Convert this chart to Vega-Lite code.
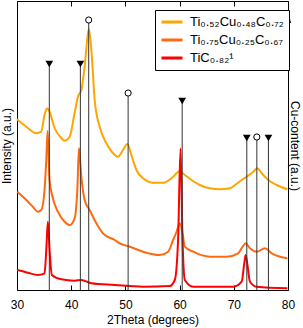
{
  "$schema": "https://vega.github.io/schema/vega-lite/v6.json",
  "width": 271,
  "height": 289,
  "autosize": {"type": "none"},
  "padding": {"left": 17, "top": 1, "right": 15, "bottom": 38},
  "config": {
    "font": "Liberation Sans",
    "view": {"stroke": "black", "strokeWidth": 1},
    "axis": {"domain": false, "grid": false, "titleFontWeight": "normal", "titleFontSize": 12, "labelFontSize": 12, "tickColor": "black", "labelColor": "black", "titleColor": "black"}
  },
  "datasets": {
    "curves": [
      {"s": "Ti₀.₅₂Cu₀.₄₈C₀.₇₂", "x": 30.0, "y": 170.7},
      {"s": "Ti₀.₅₂Cu₀.₄₈C₀.₇₂", "x": 31.7, "y": 163.3},
      {"s": "Ti₀.₅₂Cu₀.₄₈C₀.₇₂", "x": 33.55, "y": 156.7},
      {"s": "Ti₀.₅₂Cu₀.₄₈C₀.₇₂", "x": 34.47, "y": 158.3},
      {"s": "Ti₀.₅₂Cu₀.₄₈C₀.₇₂", "x": 35.08, "y": 175},
      {"s": "Ti₀.₅₂Cu₀.₄₈C₀.₇₂", "x": 35.55, "y": 181.7},
      {"s": "Ti₀.₅₂Cu₀.₄₈C₀.₇₂", "x": 36.01, "y": 178.3},
      {"s": "Ti₀.₅₂Cu₀.₄₈C₀.₇₂", "x": 36.93, "y": 162},
      {"s": "Ti₀.₅₂Cu₀.₄₈C₀.₇₂", "x": 38.17, "y": 152},
      {"s": "Ti₀.₅₂Cu₀.₄₈C₀.₇₂", "x": 38.78, "y": 149.3},
      {"s": "Ti₀.₅₂Cu₀.₄₈C₀.₇₂", "x": 39.71, "y": 153.3},
      {"s": "Ti₀.₅₂Cu₀.₄₈C₀.₇₂", "x": 40.63, "y": 177},
      {"s": "Ti₀.₅₂Cu₀.₄₈C₀.₇₂", "x": 41.24, "y": 193.3},
      {"s": "Ti₀.₅₂Cu₀.₄₈C₀.₇₂", "x": 41.87, "y": 200},
      {"s": "Ti₀.₅₂Cu₀.₄₈C₀.₇₂", "x": 42.48, "y": 223.3},
      {"s": "Ti₀.₅₂Cu₀.₄₈C₀.₇₂", "x": 43.09, "y": 256.7},
      {"s": "Ti₀.₅₂Cu₀.₄₈C₀.₇₂", "x": 43.28, "y": 260.7},
      {"s": "Ti₀.₅₂Cu₀.₄₈C₀.₇₂", "x": 43.72, "y": 240},
      {"s": "Ti₀.₅₂Cu₀.₄₈C₀.₇₂", "x": 44.33, "y": 190},
      {"s": "Ti₀.₅₂Cu₀.₄₈C₀.₇₂", "x": 45.25, "y": 163.3},
      {"s": "Ti₀.₅₂Cu₀.₄₈C₀.₇₂", "x": 46.49, "y": 146.7},
      {"s": "Ti₀.₅₂Cu₀.₄₈C₀.₇₂", "x": 47.71, "y": 136.7},
      {"s": "Ti₀.₅₂Cu₀.₄₈C₀.₇₂", "x": 48.63, "y": 133.3},
      {"s": "Ti₀.₅₂Cu₀.₄₈C₀.₇₂", "x": 49.56, "y": 140},
      {"s": "Ti₀.₅₂Cu₀.₄₈C₀.₇₂", "x": 50.37, "y": 146},
      {"s": "Ti₀.₅₂Cu₀.₄₈C₀.₇₂", "x": 51.11, "y": 135},
      {"s": "Ti₀.₅₂Cu₀.₄₈C₀.₇₂", "x": 52.03, "y": 120},
      {"s": "Ti₀.₅₂Cu₀.₄₈C₀.₇₂", "x": 53.25, "y": 111.7},
      {"s": "Ti₀.₅₂Cu₀.₄₈C₀.₇₂", "x": 55.1, "y": 107.3},
      {"s": "Ti₀.₅₂Cu₀.₄₈C₀.₇₂", "x": 56.95, "y": 107.3},
      {"s": "Ti₀.₅₂Cu₀.₄₈C₀.₇₂", "x": 58.5, "y": 111.7},
      {"s": "Ti₀.₅₂Cu₀.₄₈C₀.₇₂", "x": 59.43, "y": 116.7},
      {"s": "Ti₀.₅₂Cu₀.₄₈C₀.₇₂", "x": 60.04, "y": 119},
      {"s": "Ti₀.₅₂Cu₀.₄₈C₀.₇₂", "x": 60.96, "y": 115},
      {"s": "Ti₀.₅₂Cu₀.₄₈C₀.₇₂", "x": 62.2, "y": 110},
      {"s": "Ti₀.₅₂Cu₀.₄₈C₀.₇₂", "x": 63.73, "y": 105},
      {"s": "Ti₀.₅₂Cu₀.₄₈C₀.₇₂", "x": 65.58, "y": 101.7},
      {"s": "Ti₀.₅₂Cu₀.₄₈C₀.₇₂", "x": 67.43, "y": 100.7},
      {"s": "Ti₀.₅₂Cu₀.₄₈C₀.₇₂", "x": 69.28, "y": 101.7},
      {"s": "Ti₀.₅₂Cu₀.₄₈C₀.₇₂", "x": 70.21, "y": 105},
      {"s": "Ti₀.₅₂Cu₀.₄₈C₀.₇₂", "x": 71.45, "y": 110},
      {"s": "Ti₀.₅₂Cu₀.₄₈C₀.₇₂", "x": 72.37, "y": 113.3},
      {"s": "Ti₀.₅₂Cu₀.₄₈C₀.₇₂", "x": 73.59, "y": 118.3},
      {"s": "Ti₀.₅₂Cu₀.₄₈C₀.₇₂", "x": 74.33, "y": 121.7},
      {"s": "Ti₀.₅₂Cu₀.₄₈C₀.₇₂", "x": 75.14, "y": 116.7},
      {"s": "Ti₀.₅₂Cu₀.₄₈C₀.₇₂", "x": 76.36, "y": 110},
      {"s": "Ti₀.₅₂Cu₀.₄₈C₀.₇₂", "x": 77.91, "y": 105},
      {"s": "Ti₀.₅₂Cu₀.₄₈C₀.₇₂", "x": 79.87, "y": 100.7},

      {"s": "Ti₀.₇₅Cu₀.₂₅C₀.₆₇", "x": 30.04, "y": 98.3},
      {"s": "Ti₀.₇₅Cu₀.₂₅C₀.₆₇", "x": 31.39, "y": 91.7},
      {"s": "Ti₀.₇₅Cu₀.₂₅C₀.₆₇", "x": 32.92, "y": 83.3},
      {"s": "Ti₀.₇₅Cu₀.₂₅C₀.₆₇", "x": 33.84, "y": 78.3},
      {"s": "Ti₀.₇₅Cu₀.₂₅C₀.₆₇", "x": 34.47, "y": 80},
      {"s": "Ti₀.₇₅Cu₀.₂₅C₀.₆₇", "x": 35.08, "y": 100},
      {"s": "Ti₀.₇₅Cu₀.₂₅C₀.₆₇", "x": 35.4, "y": 130},
      {"s": "Ti₀.₇₅Cu₀.₂₅C₀.₆₇", "x": 35.64, "y": 159},
      {"s": "Ti₀.₇₅Cu₀.₂₅C₀.₆₇", "x": 36.01, "y": 110},
      {"s": "Ti₀.₇₅Cu₀.₂₅C₀.₆₇", "x": 36.62, "y": 91.7},
      {"s": "Ti₀.₇₅Cu₀.₂₅C₀.₆₇", "x": 37.54, "y": 78.3},
      {"s": "Ti₀.₇₅Cu₀.₂₅C₀.₆₇", "x": 38.78, "y": 68.3},
      {"s": "Ti₀.₇₅Cu₀.₂₅C₀.₆₇", "x": 39.71, "y": 65},
      {"s": "Ti₀.₇₅Cu₀.₂₅C₀.₆₇", "x": 40.63, "y": 71.7},
      {"s": "Ti₀.₇₅Cu₀.₂₅C₀.₆₇", "x": 41.13, "y": 100},
      {"s": "Ti₀.₇₅Cu₀.₂₅C₀.₆₇", "x": 41.43, "y": 141.7},
      {"s": "Ti₀.₇₅Cu₀.₂₅C₀.₆₇", "x": 41.87, "y": 113.3},
      {"s": "Ti₀.₇₅Cu₀.₂₅C₀.₆₇", "x": 42.48, "y": 90},
      {"s": "Ti₀.₇₅Cu₀.₂₅C₀.₆₇", "x": 43.4, "y": 80},
      {"s": "Ti₀.₇₅Cu₀.₂₅C₀.₆₇", "x": 44.64, "y": 66.7},
      {"s": "Ti₀.₇₅Cu₀.₂₅C₀.₆₇", "x": 45.86, "y": 56.7},
      {"s": "Ti₀.₇₅Cu₀.₂₅C₀.₆₇", "x": 48.02, "y": 50},
      {"s": "Ti₀.₇₅Cu₀.₂₅C₀.₆₇", "x": 48.95, "y": 46.7},
      {"s": "Ti₀.₇₅Cu₀.₂₅C₀.₆₇", "x": 50.8, "y": 43.3},
      {"s": "Ti₀.₇₅Cu₀.₂₅C₀.₆₇", "x": 53.25, "y": 38.3},
      {"s": "Ti₀.₇₅Cu₀.₂₅C₀.₆₇", "x": 56.34, "y": 35},
      {"s": "Ti₀.₇₅Cu₀.₂₅C₀.₆₇", "x": 57.88, "y": 38.3},
      {"s": "Ti₀.₇₅Cu₀.₂₅C₀.₆₇", "x": 58.8, "y": 50},
      {"s": "Ti₀.₇₅Cu₀.₂₅C₀.₆₇", "x": 59.43, "y": 58},
      {"s": "Ti₀.₇₅Cu₀.₂₅C₀.₆₇", "x": 60.04, "y": 66.7},
      {"s": "Ti₀.₇₅Cu₀.₂₅C₀.₆₇", "x": 60.6, "y": 55},
      {"s": "Ti₀.₇₅Cu₀.₂₅C₀.₆₇", "x": 60.96, "y": 43.3},
      {"s": "Ti₀.₇₅Cu₀.₂₅C₀.₆₇", "x": 62.5, "y": 38.3},
      {"s": "Ti₀.₇₅Cu₀.₂₅C₀.₆₇", "x": 65.58, "y": 33.3},
      {"s": "Ti₀.₇₅Cu₀.₂₅C₀.₆₇", "x": 68.67, "y": 33.3},
      {"s": "Ti₀.₇₅Cu₀.₂₅C₀.₆₇", "x": 70.81, "y": 36.7},
      {"s": "Ti₀.₇₅Cu₀.₂₅C₀.₆₇", "x": 71.63, "y": 43.3},
      {"s": "Ti₀.₇₅Cu₀.₂₅C₀.₆₇", "x": 72.18, "y": 46.7},
      {"s": "Ti₀.₇₅Cu₀.₂₅C₀.₆₇", "x": 72.98, "y": 41.7},
      {"s": "Ti₀.₇₅Cu₀.₂₅C₀.₆₇", "x": 74.22, "y": 38.3},
      {"s": "Ti₀.₇₅Cu₀.₂₅C₀.₆₇", "x": 75.75, "y": 41.7},
      {"s": "Ti₀.₇₅Cu₀.₂₅C₀.₆₇", "x": 76.99, "y": 36.7},
      {"s": "Ti₀.₇₅Cu₀.₂₅C₀.₆₇", "x": 78.54, "y": 33.3},
      {"s": "Ti₀.₇₅Cu₀.₂₅C₀.₆₇", "x": 79.89, "y": 31.7},

      {"s": "TiC₀.₈₂¹", "x": 30.04, "y": 20},
      {"s": "TiC₀.₈₂¹", "x": 32.0, "y": 17.3},
      {"s": "TiC₀.₈₂¹", "x": 33.84, "y": 15},
      {"s": "TiC₀.₈₂¹", "x": 35.08, "y": 16.7},
      {"s": "TiC₀.₈₂¹", "x": 35.4, "y": 40},
      {"s": "TiC₀.₈₂¹", "x": 35.69, "y": 68.3},
      {"s": "TiC₀.₈₂¹", "x": 36.01, "y": 40},
      {"s": "TiC₀.₈₂¹", "x": 36.43, "y": 15},
      {"s": "TiC₀.₈₂¹", "x": 38.17, "y": 10.7},
      {"s": "TiC₀.₈₂¹", "x": 40.63, "y": 9.3},
      {"s": "TiC₀.₈₂¹", "x": 41.87, "y": 10},
      {"s": "TiC₀.₈₂¹", "x": 43.72, "y": 6.7},
      {"s": "TiC₀.₈₂¹", "x": 48.02, "y": 5},
      {"s": "TiC₀.₈₂¹", "x": 53.25, "y": 3.3},
      {"s": "TiC₀.₈₂¹", "x": 58.19, "y": 4},
      {"s": "TiC₀.₈₂¹", "x": 59.11, "y": 10},
      {"s": "TiC₀.₈₂¹", "x": 59.72, "y": 50},
      {"s": "TiC₀.₈₂¹", "x": 60.17, "y": 141.7},
      {"s": "TiC₀.₈₂¹", "x": 60.54, "y": 50},
      {"s": "TiC₀.₈₂¹", "x": 60.96, "y": 10},
      {"s": "TiC₀.₈₂¹", "x": 62.5, "y": 3.3},
      {"s": "TiC₀.₈₂¹", "x": 69.9, "y": 3.3},
      {"s": "TiC₀.₈₂¹", "x": 71.45, "y": 8.3},
      {"s": "TiC₀.₈₂¹", "x": 71.93, "y": 26.7},
      {"s": "TiC₀.₈₂¹", "x": 72.18, "y": 35},
      {"s": "TiC₀.₈₂¹", "x": 72.48, "y": 26.7},
      {"s": "TiC₀.₈₂¹", "x": 72.98, "y": 8.3},
      {"s": "TiC₀.₈₂¹", "x": 74.22, "y": 3.3},
      {"s": "TiC₀.₈₂¹", "x": 79.89, "y": 1.7}
    ],
    "refs": [
      {"x": 35.96, "y": 226, "kind": "tri"},
      {"x": 41.69, "y": 226, "kind": "tri"},
      {"x": 43.23, "y": 270, "kind": "circ"},
      {"x": 50.5, "y": 197, "kind": "circ"},
      {"x": 60.48, "y": 189, "kind": "tri"},
      {"x": 72.4, "y": 152, "kind": "tri"},
      {"x": 74.25, "y": 153, "kind": "circ"},
      {"x": 76.39, "y": 152, "kind": "tri"}
    ],
    "arrow": [{"x": 80, "y": 273}]
  },
  "layer": [
    {
      "data": {"name": "curves"},
      "mark": {"type": "line", "strokeWidth": 2, "interpolate": "monotone"},
      "encoding": {
        "x": {"field": "x", "type": "quantitative", "scale": {"domain": [30, 80], "nice": false, "zero": false},
              "axis": {"orient": "bottom", "title": "2Theta (degrees)", "values": [30, 40, 50, 60, 70, 80], "tickSize": -5, "labelPadding": 14, "titlePadding": 4, "labelFlush": false}},
        "y": {"field": "y", "type": "quantitative", "scale": {"domain": [0, 289], "nice": false, "zero": false},
              "axis": {"orient": "left", "title": "Intensity (a.u.)", "labels": false, "ticks": false, "titlePadding": 4}},
        "color": {"field": "s", "type": "nominal",
                  "scale": {"domain": ["Ti₀.₅₂Cu₀.₄₈C₀.₇₂", "Ti₀.₇₅Cu₀.₂₅C₀.₆₇", "TiC₀.₈₂¹"], "range": ["#FFA500", "#FF6A10", "#FF0000"]},
                  "legend": {"orient": "none", "legendX": 138, "legendY": 9, "title": null, "strokeColor": "black", "fillColor": "white", "padding": 5,
                             "symbolType": "stroke", "symbolSize": 441, "symbolStrokeWidth": 3, "labelFontSize": 13, "labelOffset": 6, "rowPadding": 4, "clipHeight": 14, "labelColor": "black"}}
      }
    },
    {
      "data": {"name": "refs"},
      "mark": {"type": "rule", "color": "#333", "strokeWidth": 1},
      "encoding": {
        "x": {"field": "x", "type": "quantitative",
              "axis": {"orient": "top", "title": null, "labels": false, "values": [30, 40, 50, 60, 70, 80], "tickSize": -5}},
        "y": {"field": "y", "type": "quantitative", "axis": null},
        "y2": {"datum": 0}
      }
    },
    {
      "data": {"name": "refs"},
      "transform": [{"filter": "datum.kind == 'tri'"}],
      "mark": {"type": "point", "shape": "triangle-down", "filled": true, "color": "black", "size": 60, "opacity": 1},
      "encoding": {
        "x": {"field": "x", "type": "quantitative", "axis": null},
        "y": {"field": "y", "type": "quantitative", "axis": null}
      }
    },
    {
      "data": {"name": "refs"},
      "transform": [{"filter": "datum.kind == 'circ'"}],
      "mark": {"type": "point", "shape": "circle", "filled": true, "fill": "white", "stroke": "black", "strokeWidth": 1, "size": 38, "opacity": 1},
      "encoding": {
        "x": {"field": "x", "type": "quantitative", "axis": null},
        "y": {"field": "y", "type": "quantitative", "axis": null}
      }
    },
    {
      "data": {"name": "arrow"},
      "mark": {"type": "point", "shape": "M-0.5,1L0,-1L0.5,1Z", "filled": true, "color": "black", "size": 144, "opacity": 1},
      "encoding": {
        "x": {"field": "x", "type": "quantitative", "axis": null},
        "y": {"field": "y", "type": "quantitative",
              "axis": {"orient": "right", "title": "Cu-content (a.u.)", "titleAngle": 90, "labels": false, "ticks": false, "titlePadding": -1}}
      }
    }
  ],
  "resolve": {"axis": {"x": "independent", "y": "independent"}}
}
